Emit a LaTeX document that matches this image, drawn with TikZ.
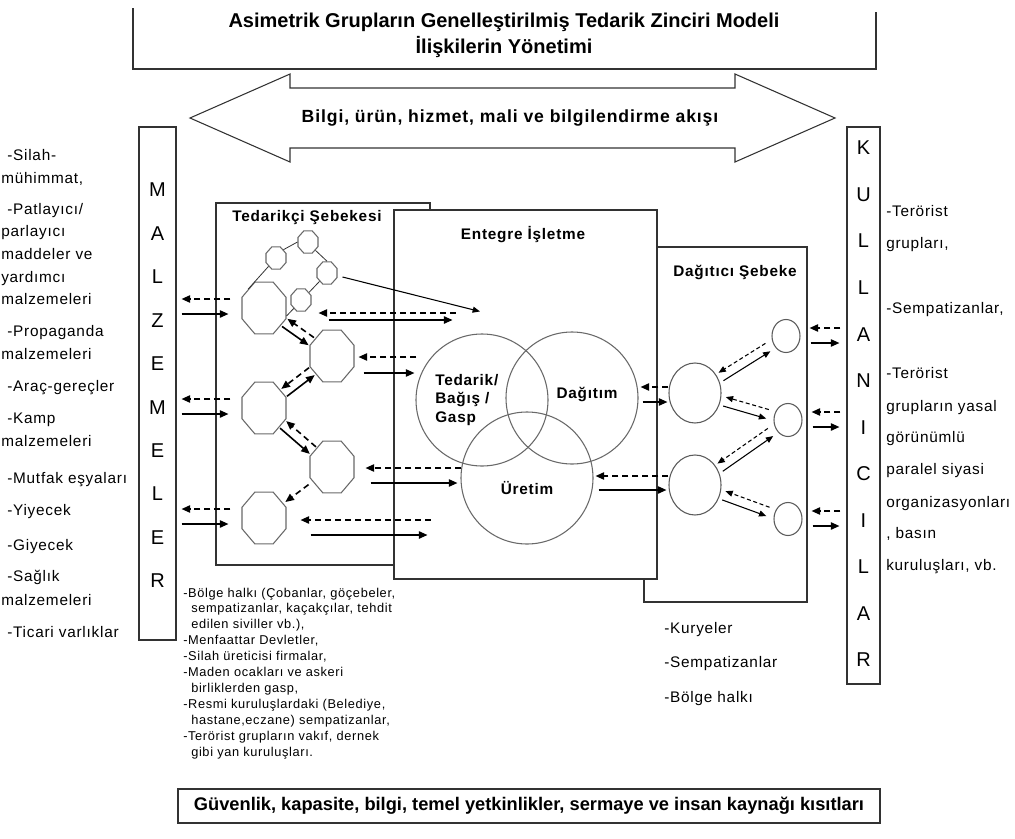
\documentclass[tikz,border=0pt]{standalone}
\usepackage{fontspec}
\setmainfont{Liberation Sans}
\newfontfamily\widefont{Liberation Sans}[LetterSpace=5]
\usetikzlibrary{calc,arrows.meta,shapes.geometric,positioning}
\definecolor{framegray}{RGB}{50,50,50}
\definecolor{shapegray}{RGB}{105,105,105}
\tikzset{
    % frames and boxes
    frame/.style={draw=framegray, line width=0.8pt, fill=white, inner sep=0pt},
    titleframe/.style={draw=framegray, line width=1.1pt},
    flowframe/.style={draw=framegray, line width=0.8pt},
    % network members
    octa/.style={regular polygon, regular polygon sides=8, draw=shapegray,
        fill=white, line width=0.8pt, inner sep=0pt, minimum size=35.7pt, yscale=1.18},
    smallocta/.style={regular polygon, regular polygon sides=8, draw=shapegray,
        fill=white, line width=0.8pt, inner sep=0pt, minimum size=16.2pt, yscale=1.12},
    venn/.style={circle, draw=shapegray, line width=0.8pt, minimum size=99pt, inner sep=0pt},
    bigdist/.style={ellipse, draw=framegray!80, fill=white, line width=0.8pt,
        minimum width=39pt, minimum height=45pt, inner sep=0pt},
    smalldist/.style={bigdist, minimum width=21pt, minimum height=24.75pt},
    % texts
    titletext/.style={font=\fontsize{15}{19.5}\selectfont\bfseries, align=center, inner sep=0pt},
    headtext/.style={font=\widefont\fontsize{13.2}{16}\selectfont\bfseries, inner sep=0pt},
    boxtitle/.style={font=\widefont\fontsize{11.5}{14}\selectfont\bfseries, inner sep=0pt},
    bigletter/.style={font=\fontsize{15}{18}\selectfont, inner sep=0pt},
    listtext/.style={font=\widefont\fontsize{11.5}{14}\selectfont, anchor=base west, inner sep=0pt},
    smalllist/.style={font=\widefont\fontsize{9.6}{12}\selectfont, anchor=base west, inner sep=0pt},
    limittext/.style={font=\fontsize{13.7}{16}\selectfont\bfseries},
    % connectors
    solidarrow/.style={line width=1.2pt, -{Triangle[length=6.5pt,width=5.5pt]}},
    dasharrow/.style={line width=1.2pt, dash pattern=on 4.5pt off 3pt, -{Triangle[length=6.5pt,width=5.5pt]}},
    thinsolid/.style={line width=0.8pt, -{Triangle[length=5.5pt,width=4.5pt]}},
    thindash/.style={line width=0.8pt, dash pattern=on 3pt off 2pt, -{Triangle[length=5.5pt,width=4.5pt]}},
    octline/.style={draw=black!80, line width=0.6pt},
}
% two opposite arrows side by side: solid #3 -> #4, dashed #4 -> #3
\newcommand{\linkpair}[6]{%
  \draw[#1] ($(#3)!#5!(#4)!3.5pt!-90:(#4)$) -- ($(#4)!#6!(#3)!3.5pt!90:(#3)$);
  \draw[#2] ($(#4)!#6!(#3)!3.5pt!-90:(#3)$) -- ($(#3)!#5!(#4)!3.5pt!90:(#4)$);
}

\begin{document}
\begin{tikzpicture}[x=0.75pt, y=-0.75pt]
  \useasboundingbox (0,0) rectangle (1015,839);

  % --- title ---
  \draw[titleframe] (133,8) |- (876,69) -- (876,12);
  \node[titletext] (title) at (504,35) {Asimetrik Grupların Genelleştirilmiş Tedarik Zinciri Modeli\\İlişkilerin Yönetimi};

  % --- flow arrow ---
  \coordinate (flowL) at (190,118);
  \coordinate (flowR) at (835,118);
  \draw[flowframe] (flowL) -- (290,74) -- (290,88) -- (735,88) -- (735,74) -- (flowR)
        -- (735,162) -- (735,148) -- (290,148) -- (290,162) -- cycle;
  \node[headtext] (flow) at (510,118) {Bilgi, ürün, hizmet, mali ve bilgilendirme akışı};

  % --- end boxes ---
  \node[frame, minimum width=27.75pt, minimum height=384.75pt] (M) at (157.5,383.5) {};
  \foreach \ch [count=\i from 0] in {M,A,L,Z,E,M,E,L,E,R}
    \node[bigletter] (M\i) at (157.5,{190+43.44*\i}) {\ch};
  \node[frame, minimum width=24.75pt, minimum height=417.75pt] (K) at (863.5,405.5) {};
  \foreach \ch [count=\i from 0] in {K,U,L,L,A,N,I,C,I,L,A,R}
    \node[bigletter] (K\i) at (863.5,{148+46.55*\i}) {\ch};

  % --- the three networks ---
  \node[frame, minimum width=160.5pt, minimum height=271.5pt] (SN) at (323,384) {};
  \node[frame, minimum width=122.25pt, minimum height=266.25pt] (DN) at (725.5,424.5) {};
  \node[frame, minimum width=197.25pt, minimum height=276.75pt] (IE) at (525.5,394.5) {};
  \node[boxtitle] (SNtitle) at (307,218) {Tedarikçi Şebekesi};
  \node[boxtitle] (IEtitle) at (523,235) {Entegre İşletme};
  \node[boxtitle] (DNtitle) at (735,272) {Dağıtıcı Şebeke};

  % suppliers
  \node[octa] (O1) at (264,308) {};
  \node[octa] (O2) at (332,356) {};
  \node[octa] (O3) at (264,408) {};
  \node[octa] (O4) at (332,467) {};
  \node[octa] (O5) at (264,518) {};
  \node[smallocta] (s1) at (276,258) {};
  \node[smallocta] (s2) at (308,242) {};
  \node[smallocta] (s3) at (327,273) {};
  \draw[octline] (O1.north west) -- (s1.south west)
        (s1.north east) -- (s2.west)
        (s2.south east) -- (s3.north)
        (s3.south west) -- ($(O1.east)+(0,8)$);
  \node[smallocta] (s4) at (301,300) {};

  % integrated enterprise
  \node[venn] (T) at (482,400) {};
  \node[venn] (Dg) at (572,398) {};
  \node[venn] (U) at (527,478) {};
  \node[boxtitle, align=left, anchor=west] (Tlabel) at (435,400) {Tedarik/\\Bağış /\\Gasp};
  \node[boxtitle] (Dglabel) at (587,394) {Dağıtım};
  \node[boxtitle] (Ulabel) at (527,488) {Üretim};

  % distributors
  \node[bigdist] (D1) at (695,393) {};
  \node[bigdist] (D2) at (695,485) {};
  \node[smalldist] (d1) at (786,336) {};
  \node[smalldist] (d2) at (788,420) {};
  \node[smalldist] (d3) at (788,519) {};

  % --- flows: materials <-> suppliers ---
  \foreach \o in {O1,O3,O5}{
    \draw[dasharrow] ($(\o.west)+(-11,-9)$) -- ($(\o.west -| M.east)+(5,-9)$);
    \draw[solidarrow] ($(\o.west -| M.east)+(5,6)$) -- ($(\o.west)+(-13,6)$);
  }
  \linkpair{solidarrow}{dasharrow}{O1}{O2}{19pt}{19pt}
  \linkpair{solidarrow}{dasharrow}{O3}{O2}{19pt}{19pt}
  \linkpair{solidarrow}{dasharrow}{O3}{O4}{19pt}{19pt}
  \draw[dasharrow] ($(O4)!22pt!(O5)$) -- ($(O5)!20pt!(O4)$);

  % suppliers <-> enterprise
  \draw[thinsolid] ($(s3.east)+(5,4)$) -- ($(T.north)+(-2,-22)$);
  \draw[dasharrow] ($(O1.east)+(169,5)$) -- ($(O1.east)+(32,5)$);
  \draw[solidarrow] ($(O1.east)+(42,12)$) -- ($(O1.east)+(166,12)$);
  \draw[dasharrow] ($(T.west |- O2.east)+(1,1)$) -- ($(O2.east)+(4,1)$);
  \draw[solidarrow] ($(O2.east)+(9,17)$) -- ($(T.west |- O2.east)+(-1,17)$);
  \draw[dasharrow] ($(U.west |- O4.east)+(1,1)$) -- ($(O4.east)+(11,1)$);
  \draw[solidarrow] ($(O4.east)+(16,16)$) -- ($(U.west |- O4.east)+(-3,16)$);
  \draw[dasharrow] ($(O5.east)+(144,2)$) -- ($(O5.east)+(14,2)$);
  \draw[solidarrow] ($(O5.east)+(24,17)$) -- ($(O5.east)+(141,17)$);

  % enterprise <-> distributors
  \draw[dasharrow] ($(D1.west)+(0,-6)$) -- ($(D1.west -| Dg.east)+(2,-6)$);
  \draw[solidarrow] ($(D1.west -| Dg.east)+(4,9)$) -- ($(D1.west)+(-1,9)$);
  \draw[dasharrow] ($(D2.west)+(0,-9)$) -- ($(D2.west -| U.east)+(2,-9)$);
  \draw[solidarrow] ($(D2.west -| U.east)+(5,5)$) -- ($(D2.west)+(-2,5)$);
  \linkpair{thinsolid}{thindash}{D1}{d1}{23pt}{16pt}
  \linkpair{thinsolid}{thindash}{D1}{d2}{23pt}{16pt}
  \linkpair{thinsolid}{thindash}{D2}{d2}{23pt}{16pt}
  \linkpair{thinsolid}{thindash}{D2}{d3}{23pt}{16pt}

  % distributors <-> users
  \foreach \d in {d1,d2,d3}{
    \draw[dasharrow] ($(\d.east -| K.west)+(-6,-8)$) -- ($(\d.east)+(9,-8)$);
    \draw[solidarrow] ($(\d.east)+(10,7)$) -- ($(\d.east -| K.west)+(-7,7)$);
  }

  % --- lists ---
  \foreach \x/\y/\txt [count=\n] in {
      7/155/{-Silah-}, 1/178/{mühimmat,}, 7/209/{-Patlayıcı/}, 1/231/{parlayıcı},
      1/254/{maddeler ve}, 1/277/{yardımcı}, 1/299/{malzemeleri}, 7/331/{-Propaganda},
      1/354/{malzemeleri}, 7/386/{-Araç-gereçler}, 7/418/{-Kamp}, 1/441/{malzemeleri},
      7/478/{-Mutfak eşyaları}, 7/510/{-Yiyecek}, 7/545/{-Giyecek}, 7/576/{-Sağlık},
      1/600/{malzemeleri}, 7/632/{-Ticari varlıklar}}
    \node[listtext] (mat\n) at (\x,{\y+5}) {\txt};
  \foreach \y/\txt [count=\n] in {
      211/{-Terörist}, 243/{grupları,}, 308/{-Sempatizanlar,}, 373/{-Terörist},
      406/{grupların yasal}, 437/{görünümlü}, 469/{paralel siyasi},
      502/{organizasyonları}, 533/{, basın}, 565/{kuruluşları, vb.}}
    \node[listtext] (usr\n) at (886,{\y+5}) {\txt};
  \foreach \x/\txt [count=\n from 0] in {
      183/{-Bölge halkı (Çobanlar, göçebeler,}, 191/{sempatizanlar, kaçakçılar, tehdit},
      191/{edilen siviller vb.),}, 183/{-Menfaattar Devletler,},
      183/{-Silah üreticisi firmalar,}, 183/{-Maden ocakları ve askeri},
      191/{birliklerden gasp,}, 183/{-Resmi kuruluşlardaki (Belediye,},
      191/{hastane,eczane) sempatizanlar,}, 183/{-Terörist grupların vakıf, dernek},
      191/{gibi yan kuruluşları.}}
    \node[smalllist] (src\n) at (\x,{597+15.9*\n}) {\txt};
  \foreach \y/\txt [count=\n] in {628/{-Kuryeler}, 662/{-Sempatizanlar}, 697/{-Bölge halkı}}
    \node[listtext] (crr\n) at (664,{\y+5}) {\txt};

  % --- constraints ---
  \node[frame, limittext, minimum width=526.5pt, minimum height=25.5pt] (limits) at (529,806)
        {Güvenlik, kapasite, bilgi, temel yetkinlikler, sermaye ve insan kaynağı kısıtları};
\end{tikzpicture}
\end{document}
